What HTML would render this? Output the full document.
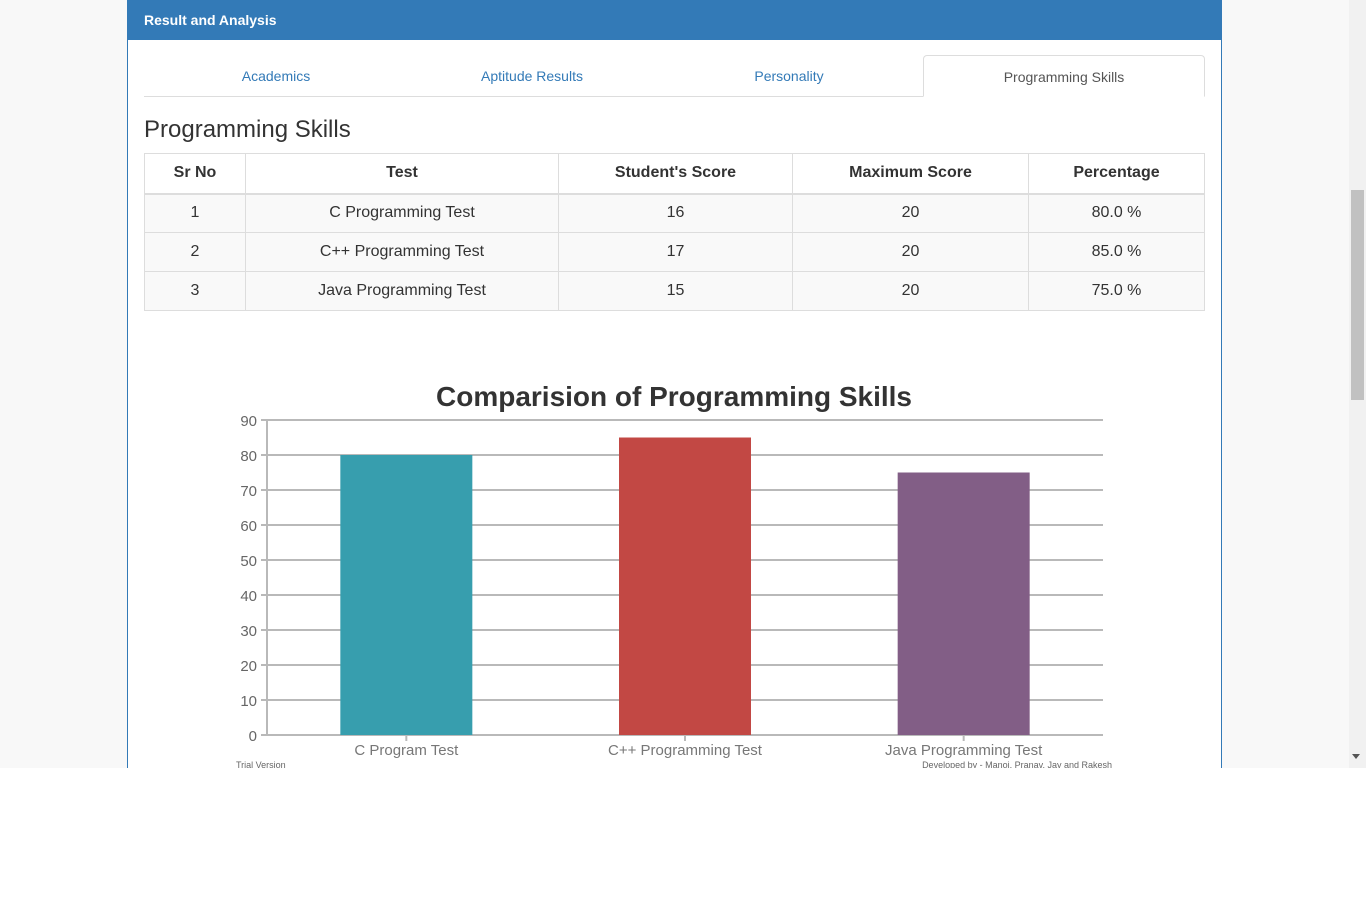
<!DOCTYPE html>
<html><head><meta charset="utf-8"><style>
*{box-sizing:border-box}
body{margin:0;width:1366px;height:902px;background:#fff;font-family:"Liberation Sans",Arial,sans-serif;overflow:hidden;position:relative}
#viewport{position:absolute;left:0;top:0;width:1366px;height:768px;background:#f8f8f8;overflow:hidden}
#scroll{position:absolute;left:1349px;top:0;width:17px;height:768px;background:#f1f1f1}
#thumb{position:absolute;left:1351px;top:190px;width:13px;height:210px;background:#c1c1c1}
#panel{position:absolute;left:127px;top:0;width:1095px;height:800px;background:#fff;border:1px solid #337ab7;border-top:none;border-radius:0 0 4px 4px}
#head{height:40px;background:#337ab7;color:#fff;font-weight:bold;font-size:14px;padding:12px 0 0 16px}
.tab{position:absolute;top:55px;height:42px;font-size:14px;color:#337ab7;text-align:center;line-height:42px}
#tabline{position:absolute;left:16px;top:96px;width:1061px;height:1px;background:#ddd}
h3{position:absolute;left:16px;top:116px;margin:0;font-size:24px;font-weight:normal;color:#333}
table{position:absolute;left:16px;top:153px;width:1061px;border-collapse:collapse;font-size:16px;color:#333}
td,th{border:1px solid #ddd;text-align:center;height:39px;padding:0}
th{border-bottom:2px solid #ddd;height:40px}
tbody tr{background:#f9f9f9}
</style></head><body>
<div id="viewport">
<div id="panel">
<div id="head">Result and Analysis</div>
<div class="tab" style="left:16px;width:264px">Academics</div>
<div class="tab" style="left:272px;width:264px">Aptitude Results</div>
<div class="tab" style="left:529px;width:264px">Personality</div>
<div id="tabline"></div>
<div class="tab" style="left:795px;width:282px;color:#555;background:#fff;border:1px solid #ddd;border-bottom-color:#fff;border-radius:4px 4px 0 0;height:42px">Programming Skills</div>
<h3>Programming Skills</h3>
<table>
<thead><tr style="background:#fff"><th style="width:101px">Sr No</th><th style="width:313px">Test</th><th style="width:234px">Student's Score</th><th style="width:236px">Maximum Score</th><th>Percentage</th></tr></thead>
<tbody>
<tr><td>1</td><td>C Programming Test</td><td>16</td><td>20</td><td>80.0 %</td></tr>
<tr><td>2</td><td>C++ Programming Test</td><td>17</td><td>20</td><td>85.0 %</td></tr>
<tr><td>3</td><td>Java Programming Test</td><td>15</td><td>20</td><td>75.0 %</td></tr>
</tbody></table>
</div>
<svg id="chart" width="1349" height="768" style="position:absolute;left:0;top:0"></svg>
<div id="scroll"></div><div id="thumb"></div>
<div style="position:absolute;left:1352px;top:754px;width:0;height:0;border-left:4px solid transparent;border-right:4px solid transparent;border-top:5px solid #555"></div>
</div>
<script>
const categories=["C Program Test","C++ Programming Test","Java Programming Test"];
const values=[80,85,75];
const colors=["#379eae","#c24844","#825e86"];
const ticks=[0,10,20,30,40,50,60,70,80,90];
const svg=document.getElementById('chart');const NS="http://www.w3.org/2000/svg";
const X0=267,X1=1103,Y0=735,YMAX=90,Y1=420;
const y=v=>Y0-(v/YMAX)*(Y0-Y1);
const bw=(X1-X0)/categories.length;
const cx=i=>X0+bw*(i+0.5);
function mk(t,a,txt){const e=document.createElementNS(NS,t);for(const k in a)e.setAttribute(k,a[k]);if(txt!=null)e.textContent=txt;svg.appendChild(e);return e;}
const f='"Liberation Sans",Carlito,sans-serif';
let t=mk('text',{x:674,y:406,'text-anchor':'middle','font-size':28,'font-weight':'bold',fill:'#333','font-family':f,textLength:476},'Comparision of Programming Skills');


ticks.forEach(v=>{
 const l=mk('line',{x1:X0-6,x2:X1,y1:y(v),y2:y(v),stroke:'#b9b9b9','stroke-width':2});
 
 
 const tx=mk('text',{x:257,y:y(v)+6,'text-anchor':'end','font-size':15,fill:'#666','font-family':f},v);
 
 
});
mk('line',{x1:X0,x2:X0,y1:Y1,y2:Y0,stroke:'#b9b9b9','stroke-width':2});
categories.forEach((c,i)=>{
 const r=mk('rect',{x:cx(i)-66,y:y(values[i]),width:132,height:Y0-y(values[i]),fill:colors[i]});
 
 
 mk('line',{x1:cx(i),x2:cx(i),y1:Y0,y2:Y0+6,stroke:'#b9b9b9','stroke-width':2});
 const tx=mk('text',{x:cx(i),y:755,'text-anchor':'middle','font-size':15,fill:'#777','font-family':f},c);
 
 
});
mk('text',{x:236,y:768,'font-size':9,fill:'#666','font-family':f},'Trial Version');
mk('text',{x:1112,y:768,'text-anchor':'end','font-size':9,fill:'#666','font-family':f},'Developed by - Manoj, Pranav, Jay and Rakesh');
</script>
</body></html>
